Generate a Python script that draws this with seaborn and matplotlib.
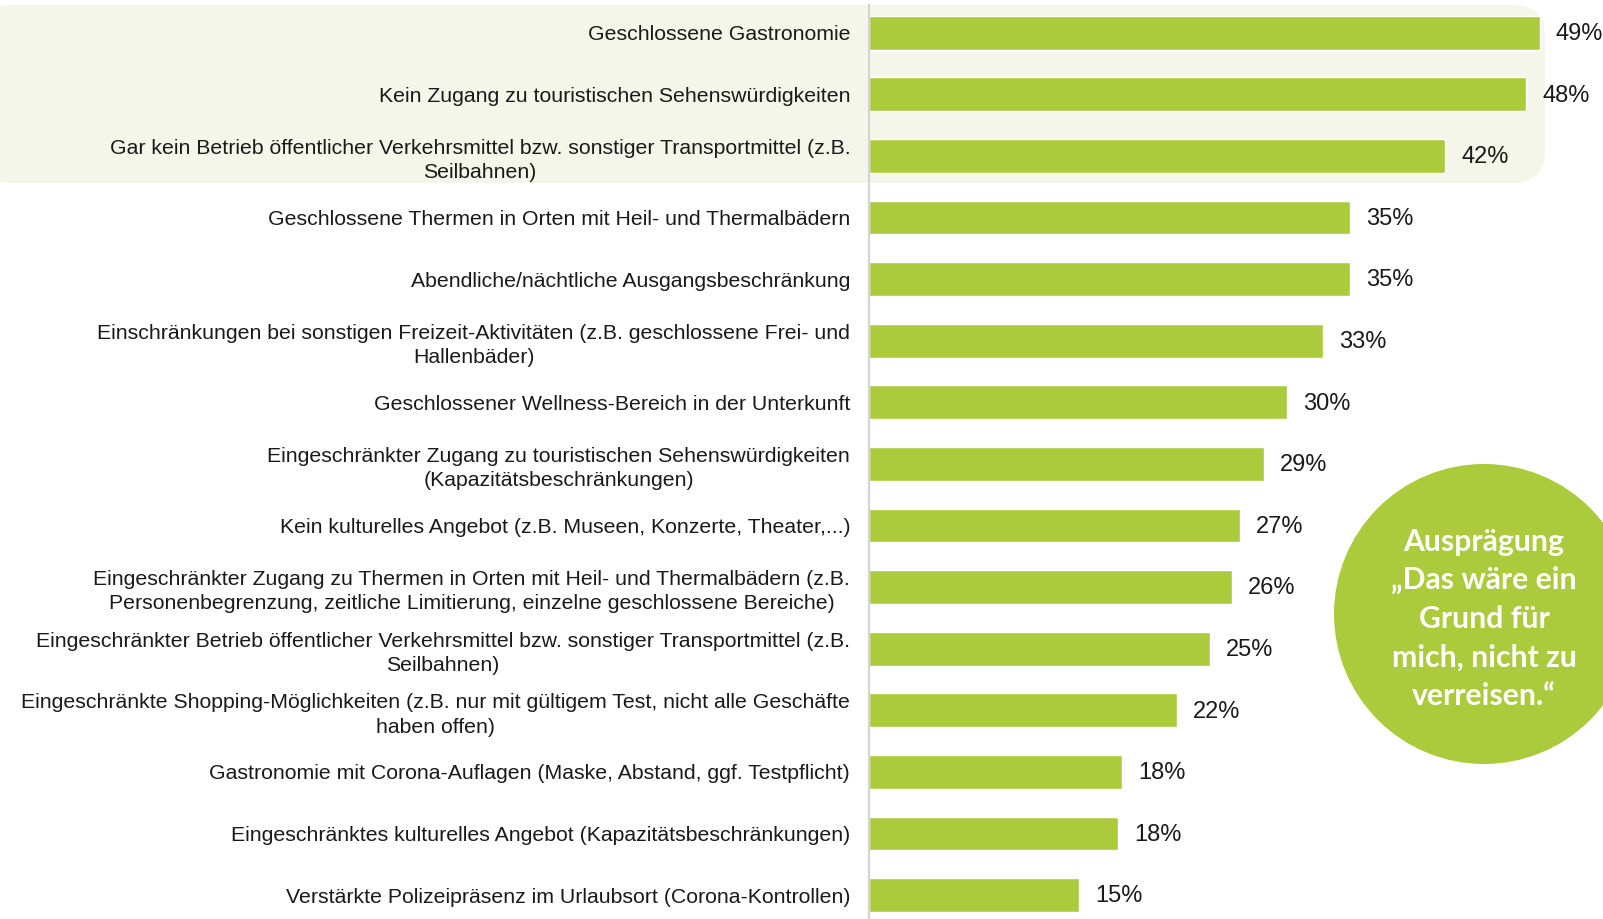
import matplotlib.pyplot as plt
import seaborn as sns
import pandas as pd
from matplotlib.patches import FancyBboxPatch, Circle

categories = [
    'Geschlossene Gastronomie',
    'Kein Zugang zu touristischen Sehenswürdigkeiten',
    'Gar kein Betrieb öffentlicher Verkehrsmittel bzw. sonstiger Transportmittel (z.B.\nSeilbahnen)',
    'Geschlossene Thermen in Orten mit Heil- und Thermalbädern',
    'Abendliche/nächtliche Ausgangsbeschränkung',
    'Einschränkungen bei sonstigen Freizeit-Aktivitäten (z.B. geschlossene Frei- und\nHallenbäder)',
    'Geschlossener Wellness-Bereich in der Unterkunft',
    'Eingeschränkter Zugang zu touristischen Sehenswürdigkeiten\n(Kapazitätsbeschränkungen)',
    'Kein kulturelles Angebot (z.B. Museen, Konzerte, Theater,...)',
    'Eingeschränkter Zugang zu Thermen in Orten mit Heil- und Thermalbädern (z.B.\nPersonenbegrenzung, zeitliche Limitierung, einzelne geschlossene Bereiche)',
    'Eingeschränkter Betrieb öffentlicher Verkehrsmittel bzw. sonstiger Transportmittel (z.B.\nSeilbahnen)',
    'Eingeschränkte Shopping-Möglichkeiten (z.B. nur mit gültigem Test, nicht alle Geschäfte\nhaben offen)',
    'Gastronomie mit Corona-Auflagen (Maske, Abstand, ggf. Testpflicht)',
    'Eingeschränktes kulturelles Angebot (Kapazitätsbeschränkungen)',
    'Verstärkte Polizeipräsenz im Urlaubsort (Corona-Kontrollen)',
]
values = [48.8, 47.8, 41.9, 35.0, 34.96, 33.0, 30.4, 28.7, 27.0, 26.4, 24.8, 22.4, 18.4, 18.1, 15.3]
circle_text = 'Ausprägung\n„Das wäre ein\nGrund für\nmich, nicht zu\nverreisen.“'

green = '#abcb3d'
df = pd.DataFrame({'cat': categories, 'val': values})

sns.set_style('white')
plt.rcParams['font.family'] = ['Liberation Sans', 'DejaVu Sans']

fig = plt.figure(figsize=(16.03, 9.19), dpi=100)
fig.patch.set_facecolor('white')

# highlighted box behind the top three rows
box = FancyBboxPatch((-0.2, 7.36), 15.65, 1.78, boxstyle='round,pad=0,rounding_size=0.32',
                     transform=fig.dpi_scale_trans, facecolor='#f4f6e9', edgecolor='none', zorder=0)
fig.patches.append(box)

ax = fig.add_axes([869 / 1603, 0, 1 - 869 / 1603, 1])
ax.set_zorder(1)
ax.set_facecolor('none')
sns.barplot(data=df, y='cat', x='val', orient='h', color=green, width=0.55,
            saturation=1, ax=ax, zorder=2)

px = 13.75  # pixels per percent
ax.set_xlim(0, 734 / px)
ax.set_ylim((919 - 32.7) / 61.6, -32.7 / 61.6)

for i, v in enumerate(values):
    ax.text(v + 16 / px, i + 0.02, f'{round(v)}%', va='center', ha='left', fontsize=17,
            color='#1a1a1a', family=['Liberation Sans'])

ax.set_xlabel('')
ax.set_ylabel('')
ax.set_xticks([])
ax.tick_params(axis='y', length=0, pad=13.5)
for lbl in ax.get_yticklabels():
    lbl.set_fontsize(15.3)
    lbl.set_family(['Liberation Sans'])
    lbl.set_multialignment('center')
    lbl.set_linespacing(1.35)
    lbl.set_color('#1a1a1a')

for s in ['top', 'right', 'bottom']:
    ax.spines[s].set_visible(False)
ax.spines['left'].set_color('#d4d4d4')
ax.spines['left'].set_linewidth(1.6)
ax.spines['left'].set_bounds(ax.get_ylim()[0], -0.45)

# green circle with note
circ = Circle((14.84, 3.05), 1.50, transform=fig.dpi_scale_trans, facecolor=green,
              edgecolor='none', zorder=2)
fig.patches.append(circ)
fig.text(14.84 / 16.03, 3.0 / 9.19, circle_text, ha='center', va='center', color='white',
         fontsize=21.7, fontweight='bold', family=['Lato', 'DejaVu Sans'], linespacing=1.46,
         zorder=3)

fig.savefig('out.png', dpi=100)
